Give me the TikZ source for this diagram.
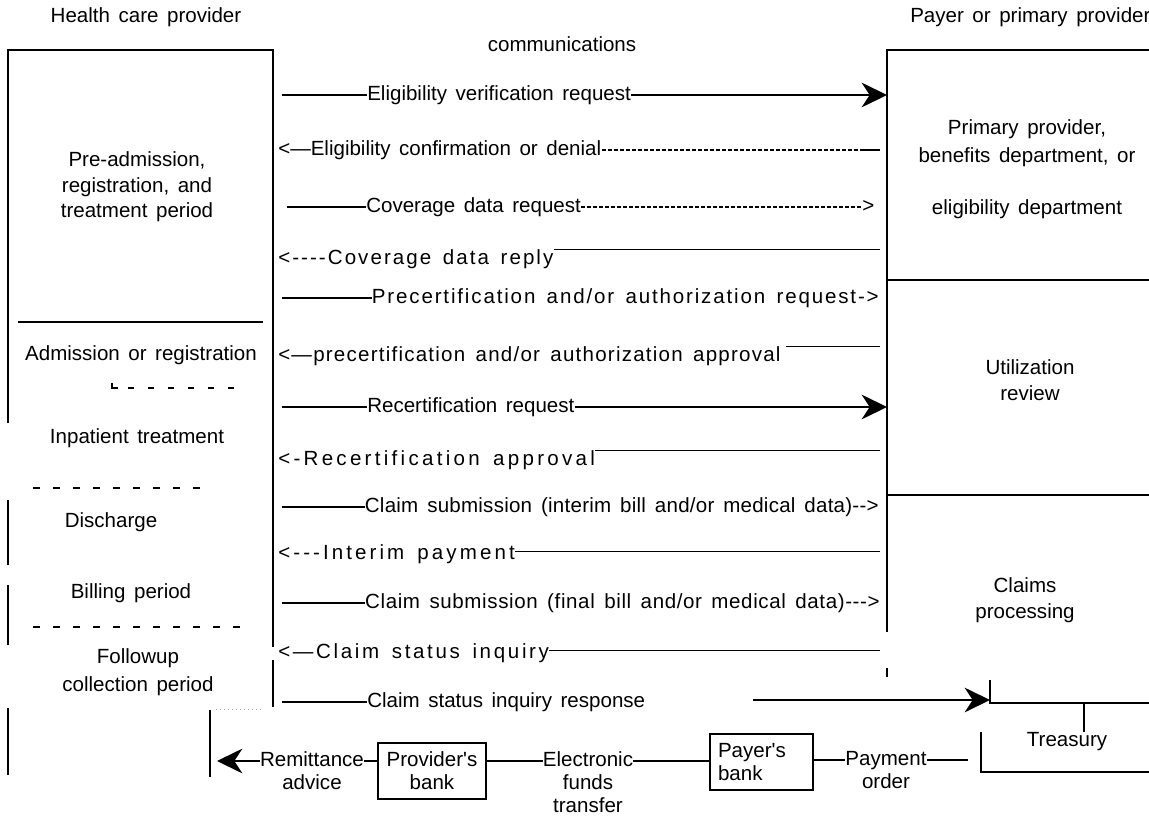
\documentclass[tikz,border=0pt]{standalone}
\usepackage{fontspec}
\setmainfont{Liberation Sans}[WordSpace=1.5, Ligatures=TeXOff]
\usepackage{tikz}
\usetikzlibrary{arrows.meta}
\usetikzlibrary{positioning}

\newcommand{\msgfont}{\fontsize{15.4}{19.2}\selectfont}

\begin{document}
\begin{tikzpicture}[
      x=0.75pt, y=-0.75pt,
      msg/.style   ={font=\msgfont, inner sep=0pt, text height=11pt, text depth=3pt},
      spaced/.style={msg, font=\msgfont\addfontfeatures{LetterSpace=#1}},
      period/.style={font=\msgfont, align=center, inner sep=0pt},
      bank/.style  ={draw, line width=0.8pt, font=\fontsize{15.4}{17.3}\selectfont, inner sep=0pt, minimum height=42pt},
      wire/.style  ={line width=1pt},
      hyph/.style  ={line width=0.9pt, dash pattern=on 3pt off 1.5pt},
      gaps/.style  ={line width=1pt, dash pattern=on 5.25pt off 9.75pt},
      big/.style   ={-{Stealth[length=19pt, width=18.5pt, inset=6pt]}, line width=1.6pt}
    ]
    \useasboundingbox (0,0) rectangle (1149,820) ;

    \coordinate (lEdge) at (282,0) ;
    \coordinate (rEdge) at (880,0) ;
    \coordinate (rBox)  at (887,0) ;

    \node [period] (hcp)   at (146,17) {Health care provider} ;
    \node [period] (comm)  at (562,44) {communications} ;
    \node [period, anchor=west] (payer) at (910,17) {Payer or primary provider} ;

    \draw [wire] (8,423) -- (8,50) -- (273,50) -- (273,647) ;
    \draw [wire] (273,660) -- (273,707) ;
    \draw [wire] (8,500) -- (8,565) ;
    \draw [wire] (8,585) -- (8,645) ;
    \draw [wire] (8,708) -- (8,775) ;
    \draw [wire] (210,710) -- (210,777) ;
    \draw [gray!60, line width=0.6pt, dash pattern=on 1pt off 2pt] (216,709) -- (262,709) ;
    \draw [wire] (18,322) -- (263,322) ;
    \draw [wire] (112,383) -- (112,388) -- (118,388) ;
    \draw [gaps, dash pattern=on 4.5pt off 10.5pt] (128,388) -- (237,388) ;
    \draw [gaps] (33,488) -- (200,488) ;
    \draw [gaps] (33,627) -- (252,627) ;

    \node [period] (preAdm)    at (137,187) {Pre-admission,\\registration, and\\treatment period} ;
    \node [period] (admission) at (141,355) {Admission or registration} ;
    \node [period] (inpatient) at (137,438) {Inpatient treatment} ;
    \node [period] (discharge) at (111,522) {Discharge} ;
    \node [period] (billing)   at (131,593) {Billing period} ;
    \node [period] (followup)  at (138,672) {Followup\\[2pt]collection period} ;

    \draw [wire] (1149,50) -- (887,50) -- (887,632) ;
    \draw [wire] (887,668) -- (887,677) ;
    \draw [wire] (887,280) -- (1149,280) ;
    \draw [wire] (887,495) -- (1149,495) ;
    \draw [wire] (990,680) -- (990,703) -- (1149,703) ;
    \draw [wire] (1084,703) -- (1084,732) ;
    \draw [wire] (981,732) -- (981,772) -- (1149,772) ;

    \node [period, font=\fontsize{15.4}{21}\selectfont] (primProv) at (1027,169)
          {Primary provider,\\benefits department, or\\[18pt]eligibility department} ;
    \node [period] (utilRev)  at (1030,380) {Utilization\\review} ;
    \node [period] (claimsPr) at (1025,600) {Claims\\processing} ;
    \node [period] (treasury) at (1067,742) {Treasury} ;

    \node [msg, anchor=west] (eligReq) at (367,95) {Eligibility verification request} ;
    \draw [wire] (lEdge |- eligReq.west) -- (eligReq.west) ;
    \draw [big] (eligReq.east) -- (eligReq.east -| rBox) ;

    \node [msg, anchor=west] (eligConf) at (278,150) {<—Eligibility confirmation or denial} ;
    \coordinate (eligDash) at (864,150) ;
    \draw [hyph] (eligConf.east) -- (eligDash) ;
    \draw [wire] (eligDash) -- (eligDash -| rEdge) ;

    \node [msg, anchor=west] (covReq) at (366,207) {Coverage data request} ;
    \node [msg, anchor=west] (covGt) at (862,207) {>} ;
    \draw [wire] (287,207) -- (covReq.west) ;
    \draw [hyph] (covReq.east) -- (covGt.west) ;

    \node [spaced=10, anchor=west] (covReply) at (278,259) {<----Coverage data reply} ;
    \draw [wire] (covReply.north east) -- (covReply.north east -| rEdge) ;

    \node [spaced=9, anchor=east] (precReq) at (879,298) {Precertification and/or authorization request->} ;
    \draw [wire] (lEdge |- precReq.west) -- (precReq.west) ;

    \node [spaced=6, anchor=west] (precApp) at (278,356) {<—precertification and/or authorization approval} ;
    \draw [wire] ([xshift=4pt]precApp.north east) -- (precApp.north east -| rEdge) ;

    \node [msg, anchor=west] (recReq) at (367,407) {Recertification request} ;
    \draw [wire] (lEdge |- recReq.west) -- (recReq.west) ;
    \draw [big] (recReq.east) -- (recReq.east -| rBox) ;

    \node [spaced=16, anchor=west] (recApp) at (278,460) {<-Recertification approval} ;
    \draw [wire] (recApp.north east) -- (recApp.north east -| rEdge) ;

    \node [spaced=1.2, anchor=east] (claimInt) at (879,507) {Claim submission (interim bill and/or medical data)-->} ;
    \draw [wire] (lEdge |- claimInt.west) -- (claimInt.west) ;

    \node [spaced=15, anchor=west] (intPay) at (278,554) {<---Interim payment} ;
    \draw [wire] ([yshift=2pt]intPay.east) -- ([yshift=2pt]intPay.east -| rEdge) ;

    \node [spaced=3, anchor=east] (claimFin) at (880,603) {Claim submission (final bill and/or medical data)--->} ;
    \draw [wire] (lEdge |- claimFin.west) -- (claimFin.west) ;

    \node [spaced=13, anchor=west] (statInq) at (278,653) {<—Claim status inquiry} ;
    \draw [wire] ([yshift=2pt]statInq.east) -- ([yshift=2pt]statInq.east -| rEdge) ;

    \node [msg, anchor=west] (statResp) at (367,702) {Claim status inquiry response} ;
    \draw [wire] (lEdge |- statResp.west) -- (statResp.west) ;
    \coordinate (respStart) at (753,700) ;
    \coordinate (trCorner) at (990,703) ;
    \draw [big] (respStart) -- (respStart -| trCorner) ;

    \node [bank, minimum width=81pt, align=center] (provBank) at (432,771) {Provider's\\bank} ;
    \node [bank, text width=65.25pt, inner xsep=6pt, align=left] (payBank) at (761.5,762) {Payer's\\bank} ;

    \node [msg] (remit)    at (312,761) {Remittance} ;
    \node [msg] (advice)   [below=3pt of remit] {advice} ;
    \node [msg] (elec)     at (588,761) {Electronic} ;
    \node [msg] (funds)    [below=3pt of elec] {funds} ;
    \node [msg] (transfer) [below=3pt of funds] {transfer} ;
    \node [msg] (payment)  at (886,760) {Payment} ;
    \node [msg] (order)    [below=3pt of payment] {order} ;
    \coordinate (remitTip) at (217,761) ;
    \coordinate (payEnd) at (968,760) ;

    \draw [big] (remit.west) -- (remit.west -| remitTip) ;
    \draw [wire] (remit.east) -- (remit.east -| provBank.west) ;
    \draw [wire] (provBank.east |- elec.west) -- (elec.west) ;
    \draw [wire] (elec.east) -- (elec.east -| payBank.west) ;
    \draw [wire] (payBank.east |- payment.west) -- (payment.west) ;
    \draw [wire] (payment.east) -- (payment.east -| payEnd) ;
  \end{tikzpicture}
\end{document}
